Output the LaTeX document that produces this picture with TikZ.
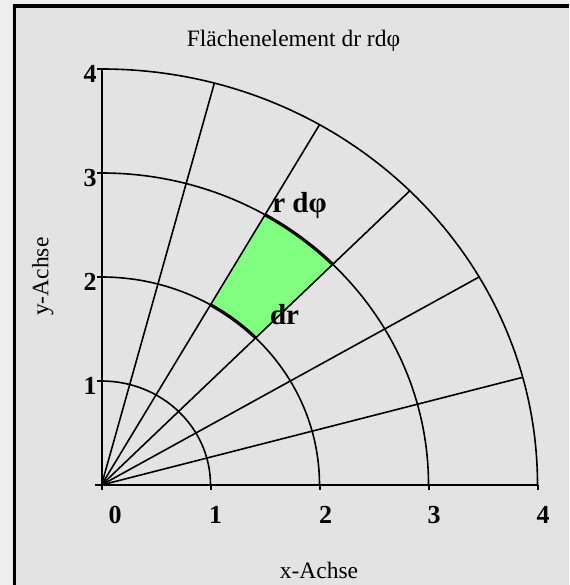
\documentclass[tikz,border=0pt]{standalone}
\usepackage{fontspec}
\setmainfont{Liberation Serif}
\usepackage{tikz}
\definecolor{outerbg}{RGB}{238, 238, 238}
\definecolor{panel}{RGB}{227, 227, 227}
\definecolor{element}{RGB}{128, 255, 128}
\tikzset{
    polarline/.style={line width=1.6pt, black},
    axisline/.style={line width=2pt, black},
    edgeline/.style={line width=3.2pt, black},
    ticklabel/.style={font=\fontsize{26}{26}\bfseries\selectfont, anchor=base, inner sep=0pt},
    textlabel/.style={font=\fontsize{23.5}{23.5}\selectfont, anchor=base, inner sep=0pt},
    elemlabel/.style={font=\fontsize{29}{29}\bfseries\selectfont, anchor=base, inner sep=0pt}
}

\begin{document}
\begin{tikzpicture}[x=109pt, y=104pt]
    % Frame
    \useasboundingbox (-101.5pt, -100pt) rectangle (467.5pt, 485pt);
    \fill[outerbg] (-101.5pt, -100pt) rectangle (467.5pt, 485pt);
    \fill[panel] (-89pt, -100pt) rectangle (467.5pt, 481pt);
    \draw[line width=3.4pt] (-87.2pt, -100pt) |- (467.5pt, 479pt);

    % Area element between r = 2 .. 3 and phi = 45 .. 60
    \fill[element] (45:2) -- (45:3) arc[start angle=45, end angle=60, radius=3]
        -- (60:2) arc[start angle=60, end angle=45, radius=2] -- cycle;

    % Circles r = const and rays phi = const
    \foreach \r in {1, 2, 3, 4}
        \draw[polarline] (0:\r) arc[start angle=0, end angle=90, radius=\r];
    \foreach \a in {15, 30, 45, 60, 75}
        \draw[polarline] (0, 0) -- (\a:4);
    \draw[edgeline] (45:3) arc[start angle=45, end angle=60, radius=3];
    \draw[edgeline] (45:2) arc[start angle=45, end angle=60, radius=2];

    % Axes
    \coordinate (O) at (0, 0);
    \draw[axisline] (-6.5pt, 0) -- (4, 0);
    \draw[axisline] (O) -- (0, 4);
    \foreach \x/\dx in {0/13.5, 1/5.2, 2/6.2, 3/5.5, 4/5.5} {
        \draw[axisline] (\x, 0) -- ++(0, -5.5pt);
        \node[ticklabel] (xtick\x) at ([shift={(\dx pt, -38.3pt)}]\x, 0) {\x};
    }
    \foreach \y in {1, 2, 3, 4} {
        \draw[axisline] (0, \y) -- ++(-5pt, 0);
        \node[ticklabel] (ytick\y) at ([shift={(-11.5pt, -14pt)}]0, \y) {\y};
    }

    % Labels
    \node[textlabel] (title) at (192pt, 438.3pt) {Flächenelement dr rdφ};
    \node[textlabel] (xaxis) at (217.5pt, -93.3pt) {x-Achse};
    \node[textlabel, rotate=90] (yaxis) at (-53.2pt, 208.3pt) {y-Achse};
    \node[elemlabel] (rdphi) at (198pt, 272pt) {r dφ};
    \node[elemlabel] (dr) at (183pt, 160pt) {dr};
\end{tikzpicture}
\end{document}
